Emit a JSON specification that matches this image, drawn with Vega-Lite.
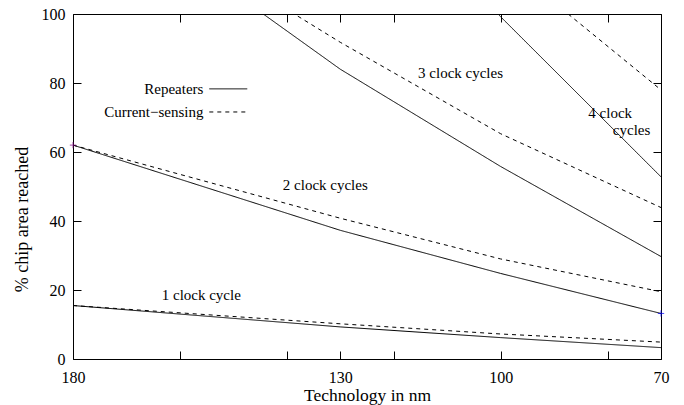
{
  "$schema": "https://vega.github.io/schema/vega-lite/v6.json",
  "width": 588,
  "height": 345,
  "autosize": {"type": "none"},
  "padding": {"left": 73, "top": 14, "right": 23, "bottom": 46},
  "background": "white",
  "config": {
    "view": {"stroke": "black", "strokeWidth": 1},
    "font": "Liberation Serif",
    "axis": {
      "domain": false,
      "tickColor": "black",
      "labelColor": "black",
      "titleColor": "black",
      "labelFont": "Liberation Serif",
      "titleFont": "Liberation Serif",
      "labelFontSize": 16,
      "titleFontSize": 17.5,
      "titleFontWeight": "normal",
      "grid": false,
      "tickSize": 8,
      "offset": -8
    }
  },
  "datasets": {
    "curves": [
      {"nm": 180, "v": 15.5, "cycles": 1, "type": "Repeaters"},
      {"nm": 130, "v": 9.3, "cycles": 1, "type": "Repeaters"},
      {"nm": 100, "v": 6.2, "cycles": 1, "type": "Repeaters"},
      {"nm": 70, "v": 3.3, "cycles": 1, "type": "Repeaters"},
      {"nm": 180, "v": 62, "cycles": 2, "type": "Repeaters"},
      {"nm": 130, "v": 37.3, "cycles": 2, "type": "Repeaters"},
      {"nm": 100, "v": 24.8, "cycles": 2, "type": "Repeaters"},
      {"nm": 70, "v": 13.2, "cycles": 2, "type": "Repeaters"},
      {"nm": 180, "v": 139.5, "cycles": 3, "type": "Repeaters"},
      {"nm": 130, "v": 84, "cycles": 3, "type": "Repeaters"},
      {"nm": 100, "v": 55.8, "cycles": 3, "type": "Repeaters"},
      {"nm": 70, "v": 29.7, "cycles": 3, "type": "Repeaters"},
      {"nm": 180, "v": 248, "cycles": 4, "type": "Repeaters"},
      {"nm": 130, "v": 149.3, "cycles": 4, "type": "Repeaters"},
      {"nm": 100, "v": 99.2, "cycles": 4, "type": "Repeaters"},
      {"nm": 70, "v": 52.8, "cycles": 4, "type": "Repeaters"},
      {"nm": 180, "v": 15.5, "cycles": 1, "type": "Current-sensing"},
      {"nm": 130, "v": 10.2, "cycles": 1, "type": "Current-sensing"},
      {"nm": 100, "v": 7.25, "cycles": 1, "type": "Current-sensing"},
      {"nm": 70, "v": 4.9, "cycles": 1, "type": "Current-sensing"},
      {"nm": 180, "v": 62, "cycles": 2, "type": "Current-sensing"},
      {"nm": 130, "v": 40.8, "cycles": 2, "type": "Current-sensing"},
      {"nm": 100, "v": 29, "cycles": 2, "type": "Current-sensing"},
      {"nm": 70, "v": 19.5, "cycles": 2, "type": "Current-sensing"},
      {"nm": 180, "v": 139.5, "cycles": 3, "type": "Current-sensing"},
      {"nm": 130, "v": 91.8, "cycles": 3, "type": "Current-sensing"},
      {"nm": 100, "v": 65.3, "cycles": 3, "type": "Current-sensing"},
      {"nm": 70, "v": 43.9, "cycles": 3, "type": "Current-sensing"},
      {"nm": 180, "v": 248, "cycles": 4, "type": "Current-sensing"},
      {"nm": 130, "v": 163.2, "cycles": 4, "type": "Current-sensing"},
      {"nm": 100, "v": 116, "cycles": 4, "type": "Current-sensing"},
      {"nm": 70, "v": 78, "cycles": 4, "type": "Current-sensing"}
    ],
    "notes": [
      {"nm": 156, "v": 18.6, "label": "1 clock cycle"},
      {"nm": 132.8, "v": 50.5, "label": "2 clock cycles"},
      {"nm": 107.5, "v": 82.9, "label": "3 clock cycles"},
      {"nm": 79.5, "v": 71.3, "label": "4 clock"},
      {"nm": 75.5, "v": 66.4, "label": "cycles"}
    ],
    "legendText": [
      {"nm": 155.6, "v": 78.3, "label": "Repeaters"},
      {"nm": 155.6, "v": 71.6, "label": "Current−sensing"}
    ],
    "legendLines": [
      {"nm": 154.5, "nm2": 147.4, "v": 78.3, "type": "Repeaters"},
      {"nm": 154.5, "nm2": 147.4, "v": 71.6, "type": "Current-sensing"}
    ],
    "marks": [
      {"nm": 180, "v": 62, "c": "purple"},
      {"nm": 70, "v": 13.2, "c": "blue"}
    ]
  },
  "layer": [
    {
      "data": {"name": "curves"},
      "mark": {"type": "line", "clip": true, "color": "black", "strokeWidth": 1},
      "encoding": {
        "x": {
          "field": "nm", "type": "quantitative",
          "scale": {"domain": [180, 70], "nice": false, "zero": false},
          "axis": {
            "orient": "bottom",
            "title": "Technology in nm",
            "values": [180, 160, 140, 130, 120, 100, 80, 70],
            "labelExpr": "indexof([180,130,100,70], datum.value) >= 0 ? datum.label : ''",
            "labelPadding": 10,
            "titlePadding": 1,
            "labelFlush": false
          }
        },
        "y": {
          "field": "v", "type": "quantitative",
          "scale": {"domain": [0, 100], "nice": false},
          "axis": {
            "orient": "left",
            "title": "% chip area reached",
            "titleFontSize": 18,
            "titleY": 205,
            "values": [0, 20, 40, 60, 80, 100],
            "labelPadding": 8,
            "titlePadding": 10
          }
        },
        "detail": {"field": "cycles"},
        "strokeDash": {
          "field": "type", "type": "nominal",
          "scale": {"domain": ["Repeaters", "Current-sensing"], "range": [[1, 0], [4, 4]]},
          "legend": null
        }
      }
    },
    {
      "data": {"name": "notes"},
      "mark": {"type": "text", "fontSize": 15, "font": "Liberation Serif", "color": "black", "align": "center", "baseline": "middle"},
      "encoding": {
        "x": {
          "field": "nm", "type": "quantitative",
          "axis": {"orient": "top", "title": null, "labels": false, "values": [180, 160, 140, 130, 120, 100, 80, 70]}
        },
        "y": {
          "field": "v", "type": "quantitative",
          "axis": {"orient": "right", "title": null, "labels": false, "values": [0, 20, 40, 60, 80, 100]}
        },
        "text": {"field": "label"}
      }
    },
    {
      "data": {"name": "legendText"},
      "mark": {"type": "text", "fontSize": 15, "font": "Liberation Serif", "color": "black", "align": "right", "baseline": "middle"},
      "encoding": {
        "x": {"field": "nm", "type": "quantitative", "axis": null},
        "y": {"field": "v", "type": "quantitative", "axis": null},
        "text": {"field": "label"}
      }
    },
    {
      "data": {"name": "legendLines"},
      "mark": {"type": "rule", "color": "black", "strokeWidth": 1},
      "encoding": {
        "x": {"field": "nm", "type": "quantitative", "axis": null},
        "x2": {"field": "nm2"},
        "y": {"field": "v", "type": "quantitative", "axis": null},
        "strokeDash": {"field": "type", "type": "nominal", "legend": null}
      }
    },
    {
      "data": {"name": "marks"},
      "mark": {"type": "point", "shape": "M-1,0L1,0M0,-1L0,1", "size": 40, "strokeWidth": 1, "filled": false},
      "encoding": {
        "x": {"field": "nm", "type": "quantitative", "axis": null},
        "y": {"field": "v", "type": "quantitative", "axis": null},
        "color": {"field": "c", "type": "nominal", "scale": null}
      }
    }
  ]
}
